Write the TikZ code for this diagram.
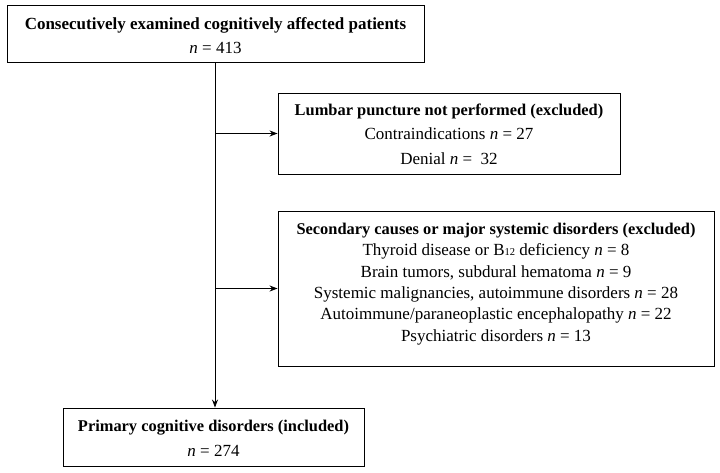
\documentclass[tikz,border=0pt]{standalone}
\usepackage{fontspec}
\setmainfont{Liberation Serif}
\usetikzlibrary{arrows.meta}
\newcommand{\nn}[1]{\textit{n}~=~#1}
\newcommand{\hd}[1]{{\fontsize{16.4}{21}\selectfont\bfseries #1}}
% #1 extra height (moves text down by half), #2 extra depth (moves text up by half), #3 baselineskip, #4 lines
\newcommand{\lines}[4]{\raisebox{0pt}[\dimexpr\height+#1\relax][\dimexpr\depth+#2\relax]{\fontsize{17}{#3}\selectfont\begin{tabular}{@{}c@{}}#4\end{tabular}}}
\begin{document}
\begin{tikzpicture}[x=1pt,y=1pt,
  box/.style={draw, line width=0.9pt, inner sep=0pt, font=\fontsize{17}{21}\selectfont},
  conn/.style={line width=0.9pt, -{Stealth[length=8pt,width=6pt]}}]
\useasboundingbox (0,0) rectangle (720,-473);
\node[box, minimum width=417, minimum height=57] (top) at (215.5,-33.5)
  {\lines{6pt}{0pt}{24.5}{\textbf{Consecutively examined cognitively affected patients}\\ \nn{413}}};
\node[box, minimum width=342, minimum height=81] (lp) at (449,-133.5)
  {\lines{3pt}{0pt}{24.5}{\hd{Lumbar puncture not performed (excluded)}\\ Contraindications \nn{27}\\ Denial \textit{n}~=~\ 32}};
\node[box, minimum width=436, minimum height=155] (sec) at (496,-288.5)
  {\lines{0pt}{10pt}{21.4}{\hd{Secondary causes or major systemic disorders (excluded)}\\
   Thyroid disease or B{\fontsize{10.5}{10.5}\selectfont 12} deficiency \nn{8}\\
   Brain tumors, subdural hematoma \nn{9}\\
   Systemic malignancies, autoimmune disorders \nn{28}\\
   Autoimmune/paraneoplastic encephalopathy \nn{22}\\
   Psychiatric disorders \nn{13}}};
\node[box, minimum width=301, minimum height=58] (prim) at (213.5,-437)
  {\lines{3pt}{0pt}{25}{\hd{Primary cognitive disorders (included)}\\ \nn{274}}};
\coordinate (s) at ([xshift=-0.5pt]top.south);
\draw[conn] (s) -- (s |- prim.north);
\draw[conn] (s |- lp.west) -- (lp.west);
\draw[conn] (s |- sec.west) -- (sec.west);
\end{tikzpicture}
\end{document}
